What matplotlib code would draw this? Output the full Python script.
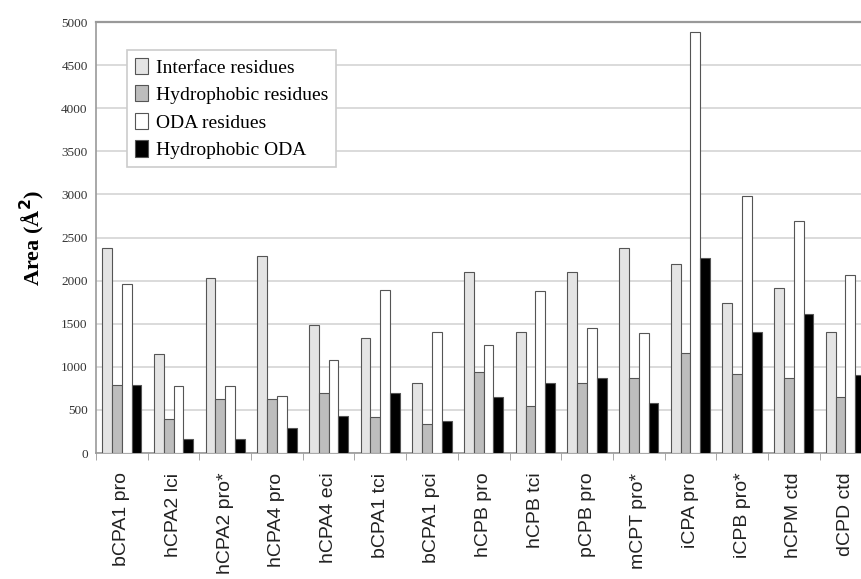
import matplotlib.pyplot as plt
import numpy as np

complexes = ["bCPA1 pro", "hCPA2 lci", "hCPA2 pro*", "hCPA4 pro", "hCPA4 eci",
             "bCPA1 tci", "bCPA1 pci", "hCPB pro", "hCPB tci", "pCPB pro",
             "mCPT pro*", "iCPA pro", "iCPB pro*", "hCPM ctd", "dCPD ctd"]

interface = [2375, 1145, 2027, 2285, 1485, 1335, 810, 2103, 1400, 2103, 2375, 2189, 1744, 1910, 1407]
hydrophobic = [789, 391, 623, 623, 692, 421, 336, 943, 545, 808, 874, 1156, 913, 866, 653]
oda = [1957, 777, 777, 661, 1079, 1891, 1407, 1253, 1879, 1446, 1396, 4880, 2981, 2691, 2065]
hydro_oda = [789, 159, 159, 294, 429, 692, 368, 653, 816, 866, 576, 2258, 1407, 1609, 905]

series = [
    ("Interface residues", interface, "#e4e4e4"),
    ("Hydrophobic residues", hydrophobic, "#bdbdbd"),
    ("ODA residues", oda, "#ffffff"),
    ("Hydrophobic ODA", hydro_oda, "#000000"),
]

fig = plt.figure(figsize=(8.61, 5.79), dpi=100)
ax = fig.add_axes([0.1115, 0.2176, 0.9005, 0.7444])

x = np.arange(len(complexes)) + 0.5
w = 0.19
for k, (name, vals, col) in enumerate(series):
    ax.bar(x + (k - 1.5) * w, vals, width=w, color=col, edgecolor="#555555",
           linewidth=0.8, label=name, zorder=3)

ax.set_xlim(0, len(complexes))
ax.set_ylim(0, 5000)
ax.set_yticks(np.arange(0, 5001, 500))
ax.set_yticklabels([str(v) for v in range(0, 5001, 500)], family="Liberation Serif",
                   fontsize=9.5, color="#333333")
ax.grid(axis="y", color="#d4d4d4", linewidth=1.2, zorder=0)

ax.set_xticks(x)
ax.set_xticklabels(complexes, rotation=90, family="Liberation Sans", fontsize=14,
                   color="#222222")
ax.tick_params(axis="x", which="major", length=0, pad=14)
ax.set_xticks(np.arange(0, len(complexes) + 1), minor=True)
ax.tick_params(axis="x", which="minor", length=5, color="#999999")
ax.tick_params(axis="y", length=0, pad=6)

for s in ["left", "bottom", "top"]:
    ax.spines[s].set_color("#999999")
    ax.spines[s].set_linewidth(1.2)
ax.spines["top"].set_linewidth(1.6)
ax.spines["right"].set_visible(False)

ax.set_ylabel("Area (Å$^\\mathbf{2}$)", family="Liberation Serif", fontweight="bold",
              fontsize=16, labelpad=10)

leg = ax.legend(loc="upper left", bbox_to_anchor=(0.04, 0.935),
                prop={"family": "Liberation Serif", "size": 14},
                frameon=True, fancybox=False, edgecolor="#cccccc", framealpha=1,
                handlelength=0.7, handleheight=0.9, handletextpad=0.4, labelspacing=0.45,
                borderpad=0.4, borderaxespad=0)
leg.get_frame().set_linewidth(1.2)

fig.savefig("out.png", dpi=100)
